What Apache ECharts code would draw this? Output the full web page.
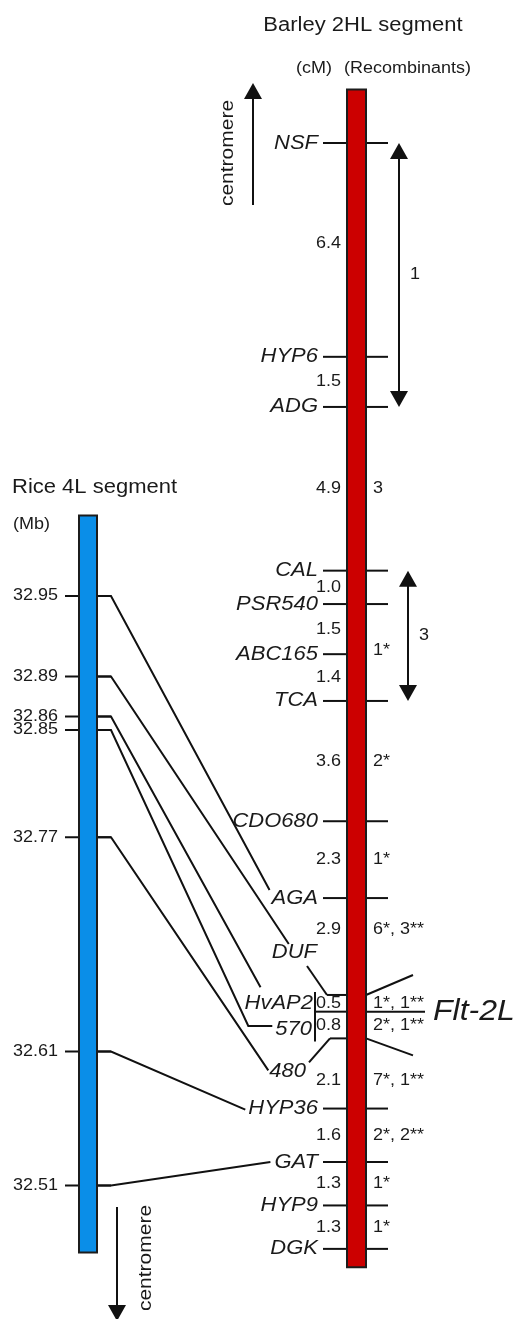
<!DOCTYPE html>
<html>
<head>
<meta charset="utf-8">
<title>Rice 4L / Barley 2HL segment</title>
<script src="https://cdn.jsdelivr.net/npm/echarts@6/dist/echarts.min.js"></script>
<style>
html, body { margin: 0; padding: 0; background: #ffffff; }
#chart { width: 519px; height: 1319px; }
</style>
</head>
<body>
<div id="chart"></div>
<script>
// ---- Rice 4L segment: physical positions (Mb) ----
const riceTicks = [32.95, 32.89, 32.86, 32.85, 32.77, 32.61, 32.51];
const riceSpan = [33.01, 32.46];

// ---- Barley 2HL segment: marker order and genetic intervals (cM) ----
const barleyLoci = ['NSF', 'HYP6', 'ADG', 'CAL', 'PSR540', 'ABC165', 'TCA', 'CDO680', 'AGA',
                    'HvAP2', 'Flt-2L', '570', 'HYP36', 'GAT', 'HYP9', 'DGK'];
const barleyIntervals = [6.4, 1.5, 4.9, 1.0, 1.5, 1.4, 3.6, 2.3, 2.9, 0.5, 0.8, 2.1, 1.6, 1.3, 1.3];
const intervalRecombinants = ['', '', '3', '', '', '', '2*', '1*', '6*, 3**', '1*, 1**',
                              '2*, 1**', '7*, 1**', '2*, 2**', '1*', '1*'];
const locusRecombinants = [['ABC165', '1*']];
const barleySpan = [-1.6, 33.65];
// markers co-segregating just above and just below Flt-2L
const flankTop = ['DUF', 'HvAP2'];
const flankBottom = ['570', '480'];
// recombination ranges (from, to, count)
const recombRanges = [['NSF', 'ADG', '1'], ['CAL', 'TCA', '3']];

// ---- rice Mb position linked to its barley marker ----
const synteny = [[32.95, 'AGA'], [32.89, 'DUF'], [32.86, 'HvAP2'], [32.85, '570'],
                 [32.77, '480'], [32.61, 'HYP36'], [32.51, 'GAT']];

// cumulative cM position of every barley locus
const lociPos = [0];
barleyIntervals.forEach((d, i) => lociPos.push(Math.round((lociPos[i] + d) * 100) / 100));
const posOf = name => lociPos[barleyLoci.indexOf(name)];

// ---- styling & layout ----
const FONT = '"Liberation Sans", Arial, Helvetica, sans-serif';
const INK = '#1a1a1a';
const LINE = '#111111';
const TEXT_SQUASH = 0.9;   // glyphs a little flatter than they are wide
const F = {
  title: '22px ' + FONT,
  head: '18px ' + FONT,
  locus: 'italic 22px ' + FONT,
  num: '18px ' + FONT,
  gene: 'italic 32px ' + FONT,
  centro: '21px ' + FONT
};
const X = {
  riceBar: [79, 97], riceTick: [65, 111], riceLabel: 58,
  barleyBar: [347, 366], tickL: 323, tickR: 388,
  locusLabel: 318, cmLabel: 341, recLabel: 373,
  rangeArrow: [399, 408], flankV: 315, geneLineEnd: 425, geneLabel: 433
};
const noRightTick = ['ABC165'];
const flankDrawn = ['HvAP2', 'Flt-2L', '570'];
const intervalLabelAt = { 0: 0.47, 8: 0.32, 11: 0.6 };
const linkEnds = {
  AGA: { dx: -2, dy: -8 }, DUF: { dx: 17, dy: -9 }, HvAP2: { dx: 16, dy: -16 },
  '570': { dx: -3, dy: -3, tail: 24 }, '480': { dx: -1, dy: -1 },
  HYP36: { dx: -3, dy: 1 }, GAT: { dx: -4, dy: 0 }
};

const measure = document.createElement('canvas').getContext('2d');
function textW(s, font) { measure.font = font; return measure.measureText(s).width; }

function txt(text, x, y, font, align, extra) {
  return Object.assign({
    type: 'text', x: x, y: y, scaleY: TEXT_SQUASH,
    style: { text: text, font: font, fill: INK, align: align, verticalAlign: 'middle',
             textAlign: align, textVerticalAlign: 'middle' }
  }, extra || {});
}
function seg(x1, y1, x2, y2, w) {
  return { type: 'line', shape: { x1: x1, y1: y1, x2: x2, y2: y2 },
           style: { stroke: LINE, lineWidth: w || 2, lineCap: 'butt' } };
}
function head(x, tipY, dir) {
  // dir = -1 points up, +1 points down
  const b = tipY - dir * 16;
  return { type: 'polygon', shape: { points: [[x - 9, b], [x + 9, b], [x, tipY]] },
           style: { fill: LINE } };
}

// label placement of the markers that flank Flt-2L
function flankLabels(yTop, yMid, yBot) {
  return {
    DUF: { right: 317, y: yTop - 42 },
    HvAP2: { right: 313, y: (yTop + yMid) / 2 },
    '570': { right: 312, y: (yMid + yBot) / 2 + 4 },
    '480': { right: 306, y: yBot + 33 }
  };
}

const chart = echarts.init(document.getElementById('chart'), null, { renderer: 'canvas' });

function barleyY(v) { return chart.convertToPixel({ yAxisIndex: 1 }, v); }
function riceY(v) { return chart.convertToPixel({ yAxisIndex: 0 }, v); }

function labelAnchor(name) {
  if (flankTop.indexOf(name) >= 0 || flankBottom.indexOf(name) >= 0) {
    const fl = flankLabels(barleyY(posOf('HvAP2')), barleyY(posOf('Flt-2L')), barleyY(posOf('570')));
    return fl[name];
  }
  return { right: X.locusLabel, y: barleyY(posOf(name)) };
}

const option = {
  animation: false,
  grid: [
    { left: 0, top: 127, width: 519, height: 1139 },     // rice, Mb
    { left: 0, top: 9.36, width: 519, height: 1303 }     // barley, cM
  ],
  xAxis: [
    { type: 'value', gridIndex: 0, min: 0, max: 519, show: false },
    { type: 'value', gridIndex: 1, min: 0, max: 519, show: false }
  ],
  yAxis: [
    { type: 'value', gridIndex: 0, min: 32.45, max: 33.3, show: false },
    { type: 'value', gridIndex: 1, min: -4, max: 35, inverse: true, show: false }
  ],
  graphic: [
    txt('Barley 2HL segment', 363, 26, F.title, 'center'),
    txt('(cM)', 332, 69, F.head, 'right'),
    txt('(Recombinants)', 344, 69, F.head, 'left'),
    txt('Rice 4L segment', 12, 488, F.title, 'left'),
    txt('(Mb)', 13, 525, F.head, 'left'),
    txt('centromere', 228, 153, F.centro, 'center', { rotation: Math.PI / 2 }),
    seg(253, 205, 253, 96),
    head(253, 83, -1),
    txt('centromere', 146, 1258, F.centro, 'center', { rotation: Math.PI / 2 }),
    seg(117, 1207, 117, 1306),
    head(117, 1321, 1)
  ],
  series: [
    // links between the rice positions and the barley markers
    {
      type: 'custom', coordinateSystem: 'none', z: 1, silent: true,
      data: synteny.map(s => [s[0]]),
      renderItem: function (p, api) {
        const name = synteny[p.dataIndex][1];
        const yr = riceY(api.value(0));
        const box = labelAnchor(name);
        const left = box.right - textW(name, F.locus);
        const e = linkEnds[name];
        const ex = left + e.dx, ey = box.y + e.dy;
        const pts = [[X.riceBar[1], yr], [X.riceTick[1], yr]];
        if (e.tail) pts.push([ex - e.tail, ey]);
        pts.push([ex, ey]);
        return { type: 'polyline', shape: { points: pts },
                 style: { stroke: LINE, lineWidth: 2, fill: null, lineJoin: 'miter' } };
      }
    },
    // rice tick marks and Mb labels
    {
      type: 'custom', xAxisIndex: 0, yAxisIndex: 0, z: 2, silent: true,
      data: riceTicks.map(v => [0, v]),
      renderItem: function (p, api) {
        const y = api.coord([0, api.value(1)])[1];
        return { type: 'group', children: [
          seg(X.riceTick[0], y, X.riceTick[1], y),
          txt(api.value(1).toFixed(2), X.riceLabel, y, F.num, 'right')
        ] };
      }
    },
    // rice chromosome segment
    {
      type: 'custom', xAxisIndex: 0, yAxisIndex: 0, z: 5, silent: true,
      data: [[0, riceSpan[0], riceSpan[1]]],
      renderItem: function (p, api) {
        const y0 = api.coord([0, api.value(1)])[1];
        const y1 = api.coord([0, api.value(2)])[1];
        return { type: 'rect',
                 shape: { x: X.riceBar[0], y: y0, width: X.riceBar[1] - X.riceBar[0], height: y1 - y0 },
                 style: { fill: '#0a8ee8', stroke: '#1c1c1c', lineWidth: 2 } };
      }
    },
    // barley markers: ticks and names
    {
      type: 'custom', xAxisIndex: 1, yAxisIndex: 1, z: 2, silent: true,
      data: barleyLoci.map((n, i) => ({ name: n, value: [0, lociPos[i]] })),
      renderItem: function (p, api) {
        const name = barleyLoci[p.dataIndex];
        if (flankDrawn.indexOf(name) >= 0) return { type: 'group', children: [] };
        const y = api.coord([0, api.value(1)])[1];
        const kids = [
          seg(X.tickL, y, X.barleyBar[0], y),
          txt(name, X.locusLabel, y, F.locus, 'right')
        ];
        if (noRightTick.indexOf(name) < 0) kids.push(seg(X.barleyBar[1], y, X.tickR, y));
        const rec = locusRecombinants.find(r => r[0] === name);
        if (rec) kids.push(txt(rec[1], X.recLabel, y - 4, F.num, 'left'));
        return { type: 'group', children: kids };
      }
    },
    // interval distances (cM) and recombinant counts
    {
      type: 'custom', xAxisIndex: 1, yAxisIndex: 1, z: 2, silent: true,
      data: barleyIntervals.map((d, i) => [0, lociPos[i], lociPos[i + 1], d]),
      renderItem: function (p, api) {
        const i = p.dataIndex;
        const f = intervalLabelAt[i] != null ? intervalLabelAt[i] : 0.5;
        const at = api.value(1) + (api.value(2) - api.value(1)) * f;
        const y = api.coord([0, at])[1];
        const kids = [txt(api.value(3).toFixed(1), X.cmLabel, y, F.num, 'right')];
        if (intervalRecombinants[i]) kids.push(txt(intervalRecombinants[i], X.recLabel, y, F.num, 'left'));
        return { type: 'group', children: kids };
      }
    },
    // Flt-2L and its flanking markers
    {
      type: 'custom', xAxisIndex: 1, yAxisIndex: 1, z: 2, silent: true,
      data: [[0, posOf('HvAP2'), posOf('Flt-2L'), posOf('570')]],
      renderItem: function (p, api) {
        const yT = api.coord([0, api.value(1)])[1];
        const yM = api.coord([0, api.value(2)])[1];
        const yB = api.coord([0, api.value(3)])[1];
        const bl = X.barleyBar[0], br = X.barleyBar[1];
        const fl = flankLabels(yT, yM, yB);
        const kids = [
          seg(327, yT, bl, yT), seg(327, yT, 307, yT - 29),
          seg(X.flankV, yT - 3, X.flankV, yB + 3),
          seg(X.flankV, yM, bl, yM), seg(br, yM, X.geneLineEnd, yM),
          seg(330, yB, bl, yB), seg(330, yB, 309, yB + 24),
          seg(br, yT, 413, yT - 20), seg(br, yB, 413, yB + 17),
          txt('Flt-2L', X.geneLabel, yM, F.gene, 'left')
        ];
        flankTop.concat(flankBottom).forEach(n => {
          kids.push(txt(n, fl[n].right, fl[n].y, F.locus, 'right'));
        });
        return { type: 'group', children: kids };
      }
    },
    // recombination range arrows
    {
      type: 'custom', xAxisIndex: 1, yAxisIndex: 1, z: 2, silent: true,
      data: recombRanges.map(r => [0, posOf(r[0]), posOf(r[1])]),
      renderItem: function (p, api) {
        const x = X.rangeArrow[p.dataIndex];
        const y0 = api.coord([0, api.value(1)])[1];
        const y1 = api.coord([0, api.value(2)])[1];
        return { type: 'group', children: [
          seg(x, y0 + 14, x, y1 - 14),
          head(x, y0, -1), head(x, y1, 1),
          txt(recombRanges[p.dataIndex][2], x + 11, (y0 + y1) / 2, F.num, 'left')
        ] };
      }
    },
    // barley chromosome segment
    {
      type: 'custom', xAxisIndex: 1, yAxisIndex: 1, z: 5, silent: true,
      data: [[0, barleySpan[0], barleySpan[1]]],
      renderItem: function (p, api) {
        const y0 = api.coord([0, api.value(1)])[1];
        const y1 = api.coord([0, api.value(2)])[1];
        return { type: 'rect',
                 shape: { x: X.barleyBar[0], y: y0, width: X.barleyBar[1] - X.barleyBar[0], height: y1 - y0 },
                 style: { fill: '#cc0000', stroke: '#1c1c1c', lineWidth: 2 } };
      }
    }
  ]
};

chart.setOption(option);
</script>
</body>
</html>
